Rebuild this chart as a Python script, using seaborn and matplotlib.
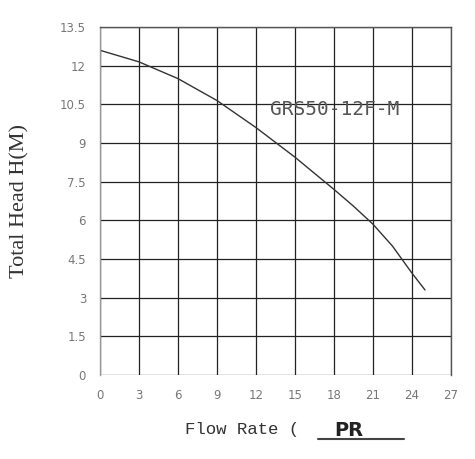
import matplotlib
matplotlib.use("Agg")
import matplotlib.pyplot as plt
import seaborn as sns
import pandas as pd

flow = [0, 3, 6, 9, 12, 15, 18, 19.5, 21, 22.5, 24, 25]
head = [12.6, 12.15, 11.5, 10.65, 9.6, 8.45, 7.2, 6.55, 5.85, 5.0, 3.95, 3.3]
xticks = [0, 3, 6, 9, 12, 15, 18, 21, 24, 27]
yticks = [0, 1.5, 3, 4.5, 6, 7.5, 9, 10.5, 12, 13.5]
ytick_labels = ["0", "1.5", "3", "4.5", "6", "7.5", "9", "10.5", "12", "13.5"]

sns.set_style("white")
fig = plt.figure(figsize=(4.75, 4.59), dpi=100)
ax = fig.add_axes([0.2105, 0.183, 0.739, 0.758])

df = pd.DataFrame({"flow": flow, "head": head})
sns.lineplot(data=df, x="flow", y="head", ax=ax, color="#333333", linewidth=1.0)

ax.set_xlim(0, 27)
ax.set_ylim(0, 13.5)
ax.set_xticks(xticks)
ax.set_yticks(yticks)
ax.set_yticklabels(ytick_labels)
ax.grid(True, color="#222222", linewidth=0.9)
for s in ax.spines.values():
    s.set_color("#555555")
    s.set_linewidth(1.0)
ax.spines["left"].set_color("#999999")
ax.spines["bottom"].set_visible(False)
ax.tick_params(length=0, labelsize=8.5, labelcolor="#777777", pad=10)
ax.set_xlabel("")
ax.set_ylabel("Total Head H(M)", family="Liberation Serif", fontsize=16,
              color="#333333", labelpad=22)

ax.text(13.1, 10.1, "GRS50-12F-M", fontsize=14, color="#555555",
        family="DejaVu Sans Mono")

fig.text(0.39, 0.055, "Flow Rate (", family="Liberation Mono", fontsize=12.5,
         color="#333333")
fig.text(0.735, 0.05, "PR", fontsize=14, fontweight="bold", color="#222222",
         family="DejaVu Sans", ha="center")
fig.add_artist(plt.Line2D([0.67, 0.85], [0.043, 0.043], color="#444444",
                          linewidth=1.5))

fig.savefig("out.png", dpi=100)
